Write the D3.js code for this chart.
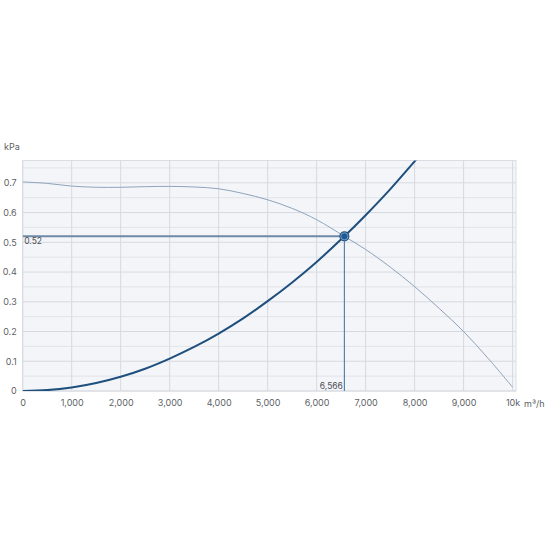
<!DOCTYPE html>
<html>
<head>
<meta charset="utf-8">
<script src="https://cdn.jsdelivr.net/npm/d3@7"></script>
<style>
  body { margin: 0; background: #fff; }
  svg { display: block; font-family: Inter, "Noto Sans", sans-serif; }
</style>
</head>
<body>
<div id="chart"></div>
<script>
// flow in m3/h, pressure in kPa
var flowTicks = [0, 1000, 2000, 3000, 4000, 5000, 6000, 7000, 8000, 9000, 10000];
var pressureTicks = [0, 0.1, 0.2, 0.3, 0.4, 0.5, 0.6, 0.7];
var minorPressure = [0.05, 0.15, 0.25, 0.35, 0.45, 0.55, 0.65, 0.75];

// pump curve
var pumpFlow = [0, 500, 1000, 1500, 2000, 2500, 3000, 3500, 4000, 4500, 5000, 5500, 6000, 6566, 7000, 7500, 8000, 8500, 9000, 9500, 10000];
var pumpPressure = [0.703, 0.698, 0.689, 0.685, 0.685, 0.687, 0.688, 0.686, 0.680, 0.664, 0.643, 0.614, 0.576, 0.52, 0.476, 0.417, 0.351, 0.278, 0.200, 0.110, 0.013];

// system curve
var systemFlow = [0, 500, 1000, 1500, 2000, 2500, 3000, 3500, 4000, 4500, 5000, 5500, 6000, 6566, 7000, 7500, 8000, 8100];
var systemPressure = [0, 0.003, 0.012, 0.027, 0.048, 0.075, 0.109, 0.148, 0.193, 0.244, 0.302, 0.365, 0.434, 0.52, 0.591, 0.678, 0.772, 0.791];

// operating point
var opFlow = 6566;
var opPressure = 0.52;

(function chart(){
var width = 550, height = 550;
var plotLeft = 22.7, plotRight = 516, plotTop = 160.5, plotBottom = 391;

var svg = d3.select("#chart").append("svg")
    .attr("width", width)
    .attr("height", height);

var x = d3.scaleLinear().domain([0, 10070]).range([plotLeft, plotRight]);
var y = d3.scaleLinear().domain([0, 0.775]).range([plotBottom, plotTop]);

// plot background
svg.append("rect")
  .attr("x", plotLeft)
  .attr("y", plotTop)
  .attr("width", plotRight - plotLeft)
  .attr("height", plotBottom - plotTop)
  .style("fill", "#f3f5f8")
  .style("stroke", "#dadee4");

// grid
svg.append("g").selectAll("line")
  .data(minorPressure)
  .enter().append("line")
    .attr("x1", plotLeft).attr("x2", plotRight)
    .attr("y1", function(d){ return y(d); })
    .attr("y2", function(d){ return y(d); })
    .style("stroke", "#e1e4e9");

svg.append("g").selectAll("line")
  .data(pressureTicks)
  .enter().append("line")
    .attr("x1", plotLeft).attr("x2", plotRight)
    .attr("y1", function(d){ return y(d); })
    .attr("y2", function(d){ return y(d); })
    .style("stroke", "#d6dae0");

svg.append("g").selectAll("line")
  .data(flowTicks)
  .enter().append("line")
    .attr("x1", function(d){ return x(d); })
    .attr("x2", function(d){ return x(d); })
    .attr("y1", plotTop).attr("y2", plotBottom)
    .style("stroke", "#d6dae0");

// axes (labels only)
var xAxis = svg.append("g")
  .attr("transform", "translate(0," + plotBottom + ")")
  .call(d3.axisBottom(x).tickValues(flowTicks).tickSize(0).tickPadding(9)
    .tickFormat(function(d){ return d == 10000 ? "10k" : d3.format(",")(d); }));
xAxis.select(".domain").remove();
xAxis.selectAll("text")
  .style("font-family", "Inter, sans-serif")
  .style("font-size", "9px")
  .style("fill", "#5c5f66");

var yAxis = svg.append("g")
  .attr("transform", "translate(" + plotLeft + ",0)")
  .call(d3.axisLeft(y).tickValues(pressureTicks).tickSize(0).tickPadding(6)
    .tickFormat(function(d){ return d3.format("")(d); }));
yAxis.select(".domain").remove();
yAxis.selectAll("text")
  .style("font-family", "Inter, sans-serif")
  .style("font-size", "9px")
  .style("fill", "#5c5f66");

svg.append("text")
  .attr("x", 4)
  .attr("y", 150)
  .text("kPa")
  .style("font-size", "9px")
  .style("fill", "#5c5f66");

svg.append("text")
  .attr("x", 524)
  .attr("y", 407)
  .text("m\u00b3/h")
  .style("font-size", "9px")
  .style("fill", "#5c5f66");

svg.append("clipPath").attr("id", "plotclip")
  .append("rect")
  .attr("x", plotLeft).attr("y", plotTop)
  .attr("width", plotRight - plotLeft).attr("height", plotBottom - plotTop);

var line = d3.line()
  .x(function(d){ return x(d[0]); })
  .y(function(d){ return y(d[1]); })
  .curve(d3.curveCatmullRom.alpha(0.5));

var plot = svg.append("g").attr("clip-path", "url(#plotclip)");

// pump curve
plot.append("path")
  .datum(d3.zip(pumpFlow, pumpPressure))
  .attr("d", line)
  .style("fill", "none")
  .style("stroke", "#8fa3ba")
  .style("stroke-width", 1);

// operating point guides
plot.append("line")
  .attr("x1", x(0)).attr("x2", x(opFlow))
  .attr("y1", y(opPressure)).attr("y2", y(opPressure))
  .style("stroke", "#6f8aa7")
  .style("stroke-width", 2);

plot.append("line")
  .attr("x1", x(opFlow)).attr("x2", x(opFlow))
  .attr("y1", y(opPressure)).attr("y2", y(0))
  .style("stroke", "#3b6e9f")
  .style("stroke-width", 1);

// system curve
plot.append("path")
  .datum(d3.zip(systemFlow, systemPressure))
  .attr("d", line)
  .style("fill", "none")
  .style("stroke", "#1e4f7d")
  .style("stroke-width", 2);

// marker
svg.append("circle")
  .attr("cx", x(opFlow))
  .attr("cy", y(opPressure))
  .attr("r", 5)
  .style("fill", "#1f4f80");
svg.append("circle")
  .attr("cx", x(opFlow))
  .attr("cy", y(opPressure))
  .attr("r", 3.6)
  .style("fill", "#1b5a96")
  .style("stroke", "#8fb1d4")
  .style("stroke-width", 0.8);

// value labels
svg.append("text")
  .attr("x", plotLeft + 1.5)
  .attr("y", y(opPressure) + 7.5)
  .text(d3.format("")(opPressure))
  .style("font-size", "8.5px")
  .style("fill", "#4a4d54");

svg.append("text")
  .attr("x", x(opFlow) - 1.5)
  .attr("y", plotBottom - 2)
  .attr("text-anchor", "end")
  .text(d3.format(",")(opFlow))
  .style("font-size", "8.5px")
  .style("fill", "#4a4d54");
}());
</script>
</body>
</html>
